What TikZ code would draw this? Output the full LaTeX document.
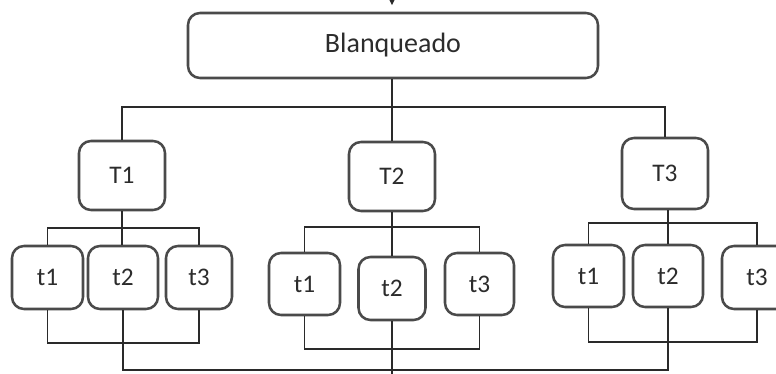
\documentclass[tikz,border=0pt]{standalone}
\usepackage{fontspec}
\setmainfont{Carlito}
\usetikzlibrary{arrows.meta}
\definecolor{boxline}{HTML}{4A4A4A}
\definecolor{wire}{HTML}{2A2A2A}
\definecolor{ink}{HTML}{2C2C2C}
\tikzset{
  stage/.style={draw=boxline, line width=1.9pt, rounded corners=9pt, fill=white,
    text=ink, font=\fontsize{19}{22}\selectfont, inner sep=0pt, anchor=center},
  boxbig/.style={stage, minimum width=86*0.75pt, minimum height=69*0.75pt},
  boxsmall/.style={stage, minimum width=70*0.75pt, minimum height=63*0.75pt},
  wire/.style={draw=wire, line width=1.3pt},
}
\begin{document}
\begin{tikzpicture}[x=0.75pt, y=-0.75pt]
  \useasboundingbox (0,0) rectangle (776,374);
  \clip (0,0) rectangle (776,374);

  % main stage
  \node[stage, minimum width=410*0.75pt, minimum height=65*0.75pt,
        font=\fontsize{21}{24}\selectfont] (blanq) at (393,45.5) {Blanqueado};
  \coordinate (feed) at (392,-2);
  \draw[wire, -{Stealth[length=6pt, width=6pt]}, shorten >=5pt] (feed) -- (feed |- blanq.north);

  % treatments
  \node[boxbig] (T1) at (122,175.5) {T1};
  \node[boxbig] (T2) at (392,176.5) {T2};
  \node[boxbig, minimum height=71*0.75pt] (T3) at (665,173.5) {T3};

  % replicates of T1
  \node[boxsmall, minimum width=71*0.75pt] (a1) at (47.5,277.5) {t1};
  \node[boxsmall] (a2) at (123,277.5) {t2};
  \node[boxsmall, minimum width=66*0.75pt] (a3) at (199,277.5) {t3};

  % replicates of T2
  \node[boxsmall, minimum width=71*0.75pt, minimum height=62*0.75pt] (b1) at (304.5,284) {t1};
  \node[boxsmall, minimum width=67*0.75pt] (b2) at (392,288.5) {t2};
  \node[boxsmall, minimum width=69*0.75pt, minimum height=62*0.75pt] (b3) at (479.5,284) {t3};

  % replicates of T3
  \node[boxsmall, minimum width=71*0.75pt, minimum height=62*0.75pt] (c1) at (588.5,276) {t1};
  \node[boxsmall, minimum height=62*0.75pt] (c2) at (668,276) {t2};
  \node[boxsmall] (c3) at (757,277.5) {t3};

  % distribution to the treatments
  \draw[wire] (blanq.south -| T2.north) -- (T2.north);
  \draw[wire] (T1.north) -- ++(0,-33) -| (T3.north);

  % distribution to the replicates
  \draw[wire] (a1.north) -- ++(0,-17) -| (a3.north);
  \draw[wire] (T1.south) -- (T1.south |- a2.north);
  \draw[wire] (b1.north) -- ++(0,-25) -| (b3.north);
  \draw[wire] (T2.south) -- (b2.north);
  \draw[wire] (c1.north) -- ++(0,-21) -| (c3.north);
  \draw[wire] (c2.north |- T3.south) -- (c2.north);

  % collection from the replicates
  \draw[wire] (a1.south) -- ++(0,33) -| (a3.south);
  \draw[wire] (b1.south) -- ++(0,33) -| (b3.south);
  \draw[wire] (c1.south) -- ++(0,34) -| (c3.south);

  % common outlet
  \coordinate (outlet) at (392,376);
  \draw[wire] (a2.south) -- ++(0,60) -| (c2.south);
  \draw[wire] (b2.south) -- (outlet);
\end{tikzpicture}
\end{document}
